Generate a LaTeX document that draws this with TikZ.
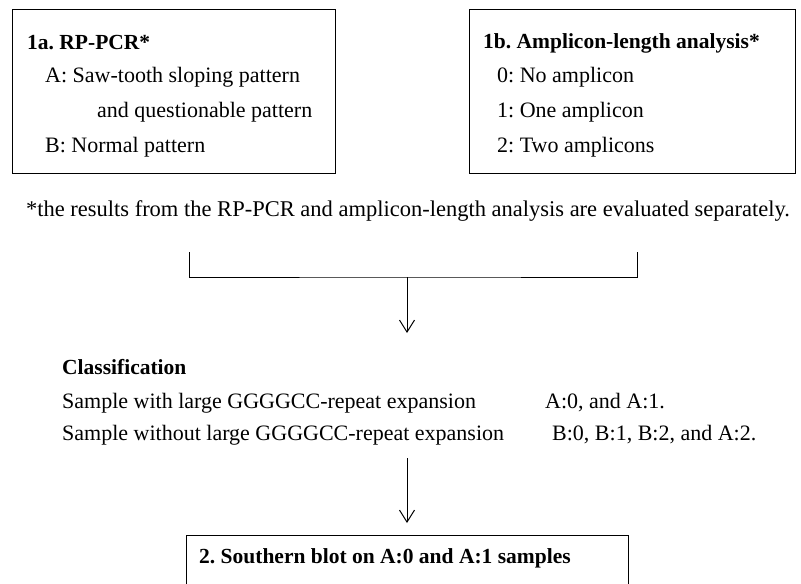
\documentclass[tikz,border=0pt]{standalone}
\usepackage{fontspec}
\setmainfont{Liberation Serif}
\usetikzlibrary{arrows.meta}
\frenchspacing
\begin{document}
\begin{tikzpicture}
  [x=1pt,y=-1pt,font=\fontsize{22}{26}\selectfont,
   every node/.style={inner sep=0pt,anchor=west},
   box/.style={draw,line width=1pt,anchor=north west},
   title/.style={font=\fontsize{21.5}{25}\bfseries},
   arr/.style={-{Straight Barb[length=12pt,width=15pt,line width=1pt]},line width=1pt}]
  \useasboundingbox (0,0) rectangle (801,584);
  \clip (0,0) rectangle (801,584);

  % step 1: the two boxes
  \node[box,minimum width=323pt,minimum height=164pt] (boxa) at (12,9) {};
  \node[title] (ta) at (27,43) {1a. RP-PCR*};
  \node (ta1) at (45,77) {A: Saw-tooth sloping pattern};
  \node (ta2) at (97,112) {and questionable pattern};
  \node (ta3) at (45,147) {B: Normal pattern};

  \node[box,minimum width=326pt,minimum height=164pt] (boxb) at (469,9) {};
  \node[title] (tb) at (483,43) {1b. Amplicon-length analysis*};
  \node (tb1) at (497,77) {0: No amplicon};
  \node (tb2) at (497,112) {1: One amplicon};
  \node (tb3) at (497,147) {2: Two amplicons};

  \node[anchor=center,font=\fontsize{22.5}{26}\selectfont] (note) at (408,211)
    {*the results from the RP-PCR and amplicon-length analysis are evaluated separately.};

  % bracket
  \coordinate (bl) at (189,252);
  \coordinate (br) at (637,252);
  \coordinate (bm) at (407,277);
  \coordinate (ctop) at (407,333);
  \draw[line width=1pt] (bl) |- (bm) -| (br);
  \draw[arr] (bm) -- (ctop);

  % classification
  \node[title] (cls) at (62,367) {Classification};
  \node (c1) at (62,403) {Sample with large GGGGCC-repeat expansion};
  \node (c1r) at (545,403) {A:0, and A:1.};
  \node (c2) at (62,435) {Sample without large GGGGCC-repeat expansion};
  \node (c2r) at (552,435) {B:0, B:1, B:2, and A:2.};

  % step 2
  \coordinate (atop) at (407,458);
  \node[box,minimum width=442pt,minimum height=100pt] (boxc) at (186,535) {};
  \node[title] (tc) at (199,558) {2. Southern blot on A:0 and A:1 samples};
  \draw[arr] (atop) -- ([yshift=12pt]boxc.north -| atop);

\end{tikzpicture}
\end{document}
